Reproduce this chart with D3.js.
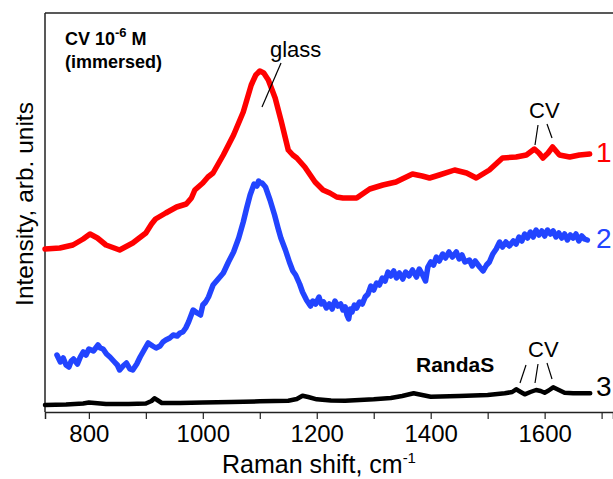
<!DOCTYPE html>
<html>
<head>
<meta charset="utf-8">
<script src="https://cdn.jsdelivr.net/npm/d3@7"></script>
<style>
  html, body { margin: 0; padding: 0; background: #fff; }
  svg { display: block; font-family: "Liberation Sans", Arial, Helvetica, sans-serif; }
</style>
</head>
<body>
<svg id="chart" width="613" height="479"></svg>
<script>
// Raman shift (cm^-1) and intensity (arb. units) for each spectrum
const shift1 = [723,749,772,790,802,815,830,854,877,900,910,917,935,954,971,980,986,1000,1009,1018,1036,1054,1071,1085,1093,1100,1107,1115,1127,1138,1150,1158,1165,1179,1197,1211,1223,1235,1246,1270,1293,1316,1339,1368,1385,1398,1415,1442,1463,1480,1503,1526,1550,1568,1582,1590,1597,1606,1614,1626,1644,1661,1679];
const intensity1 = [163,164,167,173,178,174,167,162,169,179,188,193,199,205,208,214,222,229,235,239,257,277,300,327,337,341,339,332,314,290,262,257,254,245,230,222,219,215,214,214,223,227,230,238,236,234,237,242,239,234,242,254,255,257,263,259,254,259,265,257,255,257,258];

const shift2 = [744,750,755,760,765,769,773,780,785,790,795,800,808,816,820,825,831,837,845,850,854,860,866,872,877,884,890,897,904,912,918,925,930,935,942,948,955,960,965,970,975,983,990,996,1000,1005,1010,1018,1027,1036,1045,1054,1063,1071,1077,1083,1090,1095,1098,1101,1104,1110,1118,1126,1132,1137,1145,1152,1158,1163,1170,1175,1182,1189,1193,1198,1204,1208,1212,1217,1222,1227,1232,1237,1242,1246,1250,1253,1256,1259,1262,1266,1270,1275,1280,1285,1290,1295,1300,1305,1310,1315,1320,1325,1330,1335,1340,1345,1351,1356,1362,1368,1375,1380,1385,1391,1395,1400,1405,1410,1415,1421,1426,1432,1438,1445,1450,1455,1460,1468,1473,1478,1486,1492,1498,1503,1509,1515,1521,1526,1532,1538,1545,1550,1555,1560,1565,1570,1575,1580,1585,1590,1595,1600,1605,1610,1615,1620,1625,1630,1635,1640,1645,1650,1655,1660,1665,1670,1675];
const intensity2 = [57,50,54,47,45,51,53,48,55,60,57,63,61,67,64,63,58,55,50,47,42,46,49,43,42,48,55,62,69,66,64,66,70,72,74,77,76,79,80,84,90,102,99,97,107,110,115,127,133,139,150,160,174,190,204,217,228,226,231,229,229,225,212,197,184,174,162,150,141,137,128,120,112,106,111,108,115,108,110,104,108,103,111,106,108,102,105,97,93,103,100,107,104,110,108,115,118,126,122,129,127,134,131,140,136,141,134,139,133,140,136,142,135,143,138,131,145,150,147,155,151,158,154,160,155,160,153,157,150,152,146,151,145,141,147,150,158,163,170,165,170,166,171,168,175,171,178,174,180,175,182,177,181,176,182,178,181,175,179,174,178,172,177,174,178,171,176,173,172];

const shift3 = [723,760,790,800,810,830,870,900,910,915,920,928,960,1000,1050,1100,1150,1165,1175,1185,1200,1225,1250,1300,1330,1350,1370,1385,1400,1450,1500,1530,1543,1550,1558,1565,1575,1585,1593,1600,1607,1615,1625,1635,1650,1680];
const intensity3 = [7,7.5,8.5,9.5,9,8,8,8.5,11,13.7,12,9,9,9.5,10,10.7,11.3,13,16.3,15,12.7,11.5,11.3,12.7,14,16,18.7,17,15.3,16,17,18.7,20,22.7,20,17.7,20,22,21,19.3,21.5,24.7,22,19.3,18.7,18.7];

const seriesNames = ["1", "2", "3"];
const seriesColors = ["#ff0000", "#2244ff", "#000000"];
const xTicks = [800, 1000, 1200, 1400, 1600];
const xMinorTicks = [900, 1100, 1300, 1500, 1700];

(function draw() {
  const svg = d3.select("#chart");
  const mLeft = 45, mRight = 613, mTop = 13, mBottom = 412;

  const x = d3.scaleLinear().domain([723, 1720]).range([mLeft, mRight]);
  const y = d3.scaleLinear().domain([0, 399]).range([mBottom, mTop]);

  // frame: left and top lines
  svg.append("line").attr("x1", mLeft).attr("x2", mRight).attr("y1", mTop).attr("y2", mTop)
    .attr("stroke", "#222").attr("stroke-width", 1.5);
  svg.append("line").attr("x1", mLeft).attr("x2", mLeft).attr("y1", mTop).attr("y2", mBottom)
    .attr("stroke", "#222").attr("stroke-width", 1.5);

  // bottom axis
  const xAxis = d3.axisBottom(x).tickValues(xTicks).tickSize(7).tickPadding(6).tickFormat(d3.format("d"));
  const gx = svg.append("g").attr("transform", `translate(0,${mBottom})`).call(xAxis);
  gx.select(".domain").attr("stroke", "#222").attr("stroke-width", 1.5);
  gx.selectAll(".tick line").attr("stroke", "#222").attr("stroke-width", 1.2);
  gx.selectAll(".tick text").attr("font-size", 24).attr("fill", "#000")
    .attr("font-family", "Liberation Sans, Arial, sans-serif");
  const gxm = svg.append("g").attr("transform", `translate(0,${mBottom})`)
    .call(d3.axisBottom(x).tickValues(xMinorTicks).tickSize(7).tickFormat(""));
  gxm.select(".domain").remove();
  gxm.selectAll(".tick line").attr("stroke", "#222").attr("stroke-width", 1.2);

  // axis titles
  const xt = svg.append("text").attr("x", 319).attr("y", 473).attr("text-anchor", "middle")
    .attr("font-size", 25).attr("fill", "#000");
  xt.append("tspan").text("Raman shift, cm");
  xt.append("tspan").attr("dy", -10).attr("font-size", 15).text("-1");

  svg.append("text").attr("transform", "translate(33,204) rotate(-90)")
    .attr("text-anchor", "middle").attr("font-size", 24.5).attr("fill", "#000")
    .text("Intensity, arb. units");

  // spectra
  const spectra = [
    { xs: shift1, ys: intensity1, width: 5.5, nudge: 8 },
    { xs: shift2, ys: intensity2, width: 5.5, nudge: 8 },
    { xs: shift3, ys: intensity3, width: 4.5, nudge: 3 }
  ];
  const line = d3.line().x(d => x(d[0])).y(d => y(d[1])).curve(d3.curveLinear);
  spectra.forEach((s, i) => {
    const pts = s.xs.map((v, k) => [v, s.ys[k]]);
    svg.append("path").datum(pts).attr("d", line)
      .attr("fill", "none").attr("stroke", seriesColors[i])
      .attr("stroke-width", s.width).attr("stroke-linejoin", "round").attr("stroke-linecap", "round");
  });

  // curve numbers at right end
  spectra.forEach((s, i) => {
    svg.append("text").attr("x", 596).attr("y", y(s.ys[s.ys.length - 1]) + s.nudge)
      .attr("font-size", 28).attr("fill", seriesColors[i]).text(seriesNames[i]);
  });

  // annotations
  const t1 = svg.append("text").attr("x", 65).attr("y", 45).attr("font-size", 18)
    .attr("font-weight", "bold").attr("fill", "#000");
  t1.append("tspan").text("CV 10");
  t1.append("tspan").attr("dy", -8).attr("font-size", 13).text("-6");
  t1.append("tspan").attr("dy", 8).text(" M");
  svg.append("text").attr("x", 65).attr("y", 68).attr("font-size", 18)
    .attr("font-weight", "bold").attr("fill", "#000").text("(immersed)");

  svg.append("text").attr("x", 270).attr("y", 57).attr("font-size", 22).attr("fill", "#000").text("glass");
  svg.append("line").attr("x1", 281).attr("y1", 63).attr("x2", 262).attr("y2", 107)
    .attr("stroke", "#000").attr("stroke-width", 1.2);

  svg.append("text").attr("x", 529).attr("y", 118).attr("font-size", 22).attr("fill", "#000").text("CV");
  svg.append("line").attr("x1", 538).attr("y1", 125).attr("x2", 535).attr("y2", 145).attr("stroke", "#000").attr("stroke-width", 1.2);
  svg.append("line").attr("x1", 547).attr("y1", 124).attr("x2", 552).attr("y2", 138).attr("stroke", "#000").attr("stroke-width", 1.2);

  svg.append("text").attr("x", 416).attr("y", 372).attr("font-size", 21)
    .attr("font-weight", "bold").attr("fill", "#000").text("RandaS");
  svg.append("text").attr("x", 528).attr("y", 357).attr("font-size", 22).attr("fill", "#000").text("CV");
  svg.append("line").attr("x1", 526).attr("y1", 365).attr("x2", 520).attr("y2", 383).attr("stroke", "#000").attr("stroke-width", 1.2);
  svg.append("line").attr("x1", 538).attr("y1", 364).attr("x2", 535).attr("y2", 383).attr("stroke", "#000").attr("stroke-width", 1.2);
  svg.append("line").attr("x1", 547).attr("y1", 363).attr("x2", 552).attr("y2", 379).attr("stroke", "#000").attr("stroke-width", 1.2);
})();
</script>
</body>
</html>
